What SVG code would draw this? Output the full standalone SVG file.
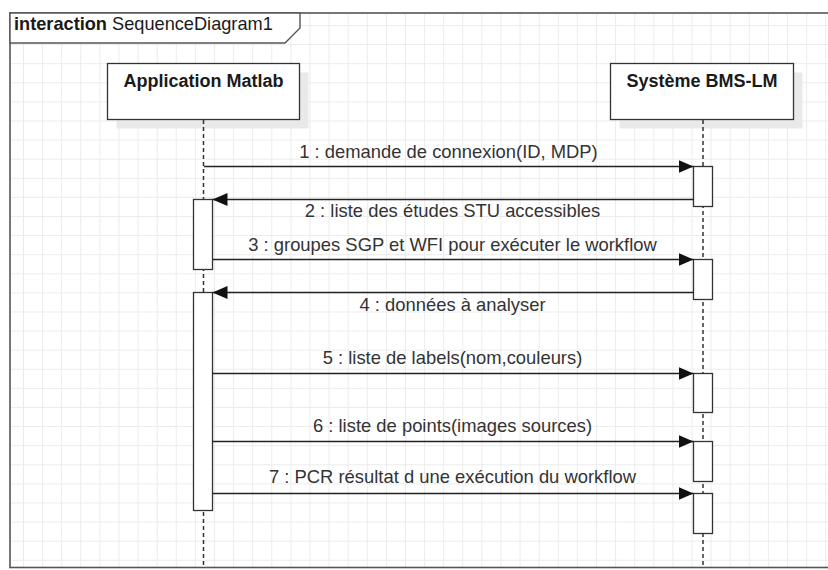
<svg xmlns="http://www.w3.org/2000/svg" width="828" height="570" viewBox="0 0 828 570">
<defs>
<pattern id="grid" patternUnits="userSpaceOnUse" x="3.9" y="5.9" width="19.1" height="19.1">
<path d="M0.5,0 V19.1 M0,0.5 H19.1" fill="none" stroke="#ebebeb" stroke-width="1"/>
</pattern>
<marker id="arrow" viewBox="0 0 15 13" refX="15" refY="6.5" markerWidth="15" markerHeight="13" markerUnits="userSpaceOnUse" orient="auto">
<path d="M0,0 L15,6.5 L0,13 Z" fill="#111"/>
</marker>
</defs>
<style>
.frame{fill:none;stroke:#555;stroke-width:1.6}
.title{fill:#fff;stroke:#555;stroke-width:1.4}
.box{fill:#fff;stroke:#333;stroke-width:1.3}
.shadow{fill:#e9e9e9}
.life{stroke:#333;stroke-width:1.5;stroke-dasharray:4 3;fill:none}
.act{fill:#fff;stroke:#333;stroke-width:1.3}
.msg{stroke:#222;stroke-width:1.3;fill:none;marker-end:url(#arrow)}
.lbl{font-family:"Liberation Sans",Arial,sans-serif;font-size:18.4px;fill:#333;text-anchor:middle}
.name{font-family:"Liberation Sans",Arial,sans-serif;font-size:18px;font-weight:bold;fill:#1a1a1a;text-anchor:middle}
.ttl{font-family:"Liberation Sans",Arial,sans-serif;font-size:18.2px;fill:#1a1a1a}
</style>
<rect width="828" height="570" fill="#fff"/>
<g id="frame">
<rect x="10" y="13" width="830" height="554.5" fill="url(#grid)"/>
<rect x="10" y="13" width="830" height="554.5" class="frame"/>
<path d="M10,13 H300 V28 L285,43 H10 Z" class="title"/>
<text x="14" y="30" class="ttl"><tspan font-weight="bold">interaction</tspan> SequenceDiagram1</text>
</g>
<g id="lifeline-app">
<rect x="116.5" y="72.5" width="192" height="56" class="shadow"/>
<rect x="107.5" y="63.5" width="192" height="56" class="box"/>
<text x="203.5" y="87" class="name">Application Matlab</text>
<line x1="203.5" y1="120" x2="203.5" y2="567" class="life"/>
<rect x="193.5" y="199.5" width="19" height="70" class="act"/>
<rect x="193.5" y="292.5" width="19" height="218" class="act"/>
</g>
<g id="lifeline-bms">
<rect x="619.5" y="72.5" width="183" height="56" class="shadow"/>
<rect x="610.5" y="63.5" width="183" height="56" class="box"/>
<text x="702" y="87" class="name">Système BMS-LM</text>
<line x1="703" y1="120" x2="703" y2="567" class="life"/>
<rect x="693.5" y="166.5" width="19" height="40" class="act"/>
<rect x="693.5" y="259.5" width="19" height="40" class="act"/>
<rect x="693.5" y="373.5" width="19" height="39" class="act"/>
<rect x="693.5" y="441.5" width="19" height="40" class="act"/>
<rect x="693.5" y="493.5" width="19" height="40" class="act"/>
</g>
<g id="connectors">
<line x1="204" y1="166.5" x2="693.5" y2="166.5" class="msg"/>
<text x="448.5" y="158" class="lbl">1 : demande de connexion(ID, MDP)</text>
<line x1="693.5" y1="199.5" x2="212.5" y2="199.5" class="msg"/>
<text x="452.5" y="217" class="lbl">2 : liste des études STU accessibles</text>
<line x1="212.5" y1="259.5" x2="693.5" y2="259.5" class="msg"/>
<text x="452.5" y="251" class="lbl">3 : groupes SGP et WFI pour exécuter le workflow</text>
<line x1="693.5" y1="292.5" x2="212.5" y2="292.5" class="msg"/>
<text x="452.5" y="311" class="lbl">4 : données à analyser</text>
<line x1="212.5" y1="373.5" x2="693.5" y2="373.5" class="msg"/>
<text x="452.5" y="363.5" class="lbl">5 : liste de labels(nom,couleurs)</text>
<line x1="212.5" y1="441.5" x2="693.5" y2="441.5" class="msg"/>
<text x="452.5" y="432" class="lbl">6 : liste de points(images sources)</text>
<line x1="212.5" y1="493.5" x2="693.5" y2="493.5" class="msg"/>
<text x="452.5" y="483" class="lbl">7 : PCR résultat d une exécution du workflow</text>
</g>
</svg>
